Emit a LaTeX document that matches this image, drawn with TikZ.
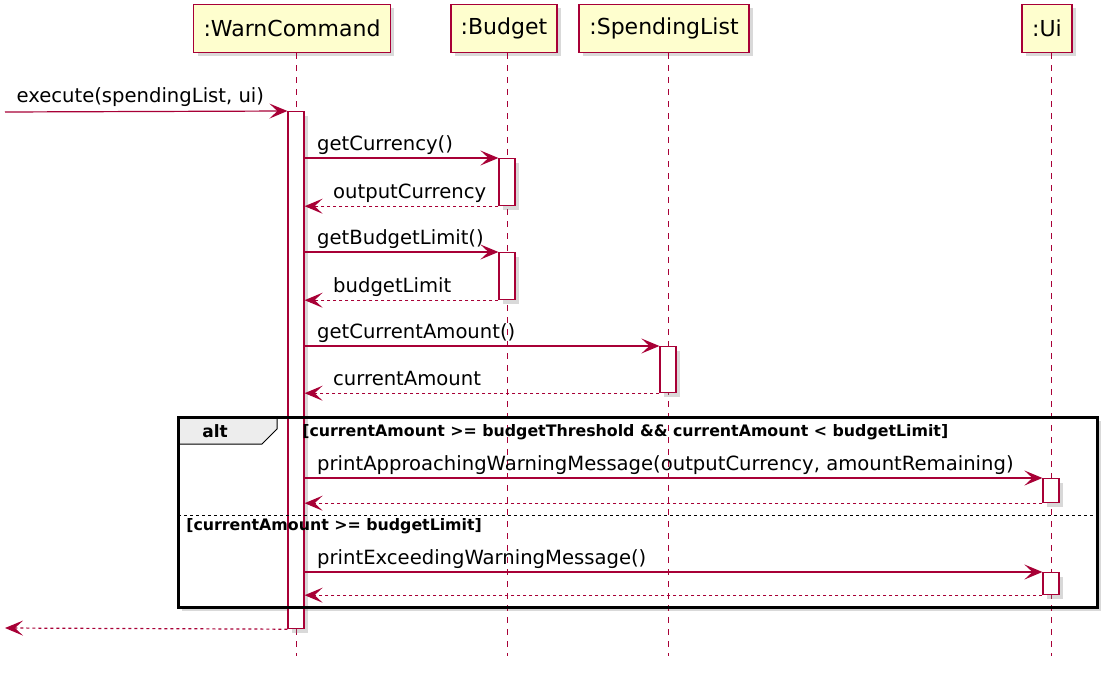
\documentclass[tikz,border=0pt]{standalone}
\usepackage{fontspec}
\setmainfont{DejaVu Sans}
\usetikzlibrary{arrows.meta,shadows}

\definecolor{umlred}{HTML}{A80036}
\definecolor{umlfill}{HTML}{FEFECE}

\begin{document}
\begin{tikzpicture}[x=1pt,y=-1pt,>={Stealth[length=18pt,width=15pt,inset=8pt]},
                    semithick,
                    shade/.style={drop shadow={shadow xshift=4pt,shadow yshift=-4pt,opacity=.3}},
                    party/.style={draw=umlred,line width=1.8pt,fill=umlfill,shade,
                                  minimum height=48pt,inner xsep=10pt,
                                  font=\fontsize{22}{26}\selectfont},
                    act/.style={draw=umlred,line width=1.2pt,fill=white,shade,anchor=north,
                                minimum width=16pt,inner sep=0pt},
                    life/.style={umlred,line width=1pt,dash pattern=on 6pt off 6pt},
                    call/.style={->,umlred,line width=1.2pt},
                    reply/.style={->,umlred,line width=1.2pt,dash pattern=on 3pt off 3pt},
                    clbl/.style={pos=0,anchor=base west,inner sep=0pt,xshift=12pt,yshift=8pt,
                                 text=black,font=\fontsize{19.6}{23}\selectfont},
                    rlbl/.style={clbl,pos=1,xshift=16pt},
                    guard/.style={anchor=west,inner sep=0pt,font=\bfseries\fontsize{15.8}{19}\selectfont}]

  \useasboundingbox (0,0) rectangle (1113,674);

  % participants
  \node[party] (pWC) at (292,28.5)  {:WarnCommand};
  \node[party] (pB)  at (504,28.5)  {:Budget};
  \node[party] (pS)  at (664,28.5)  {:SpendingList};
  \node[party] (pU)  at (1047,28.5) {:Ui};

  % alt frame
  \coordinate (fNW) at (178,417);
  \coordinate (fSE) at (1097,607);
  \draw[line width=3pt,fill=white,shade] (fNW) rectangle (fSE);

  % lifelines
  \coordinate (eWC) at (296,656);
  \coordinate (eB)  at (507,656);
  \coordinate (eS)  at (668,656);
  \coordinate (eU)  at (1051,656);
  \draw[life] (eWC |- pWC.south) -- (eWC);
  \draw[life] (eB |- pB.south)   -- (eB);
  \draw[life] (eS |- pS.south)   -- (eS);
  \draw[life] (eU |- pU.south)   -- (eU);

  % activations
  \node[act,minimum height=517pt] (aWC) at (296,111)  {};
  \node[act,minimum height=47pt]  (aB1) at (507,158)  {};
  \node[act,minimum height=47pt]  (aB2) at (507,252)  {};
  \node[act,minimum height=46pt]  (aS)  at (668,346)  {};
  \node[act,minimum height=24pt]  (aU1) at (1051,478) {};
  \node[act,minimum height=22pt]  (aU2) at (1051,572) {};

  % messages
  \coordinate (in)  at (5,112);
  \coordinate (out) at (5,628);
  \draw[call] (in) -- node[clbl,xshift=-1pt,yshift=1pt] {execute(spendingList, ui)} (aWC.north west);

  \draw[call]  (aWC.east |- aB1.north) -- node[clbl] {getCurrency()} (aB1.north west);
  \draw[reply] (aB1.south west) -- node[rlbl] {outputCurrency} (aWC.east |- aB1.south);
  \draw[call]  (aWC.east |- aB2.north) -- node[clbl] {getBudgetLimit()} (aB2.north west);
  \draw[reply] (aB2.south west) -- node[rlbl] {budgetLimit} (aWC.east |- aB2.south);
  \draw[call]  (aWC.east |- aS.north) -- node[clbl] {getCurrentAmount()} (aS.north west);
  \draw[reply] (aS.south west) -- node[rlbl] {currentAmount} (aWC.east |- aS.south);

  \draw[call]  (aWC.east |- aU1.north) -- node[clbl]
    {printApproachingWarningMessage(outputCurrency, amountRemaining)} (aU1.north west);
  \draw[reply] (aU1.south west) -- (aWC.east |- aU1.south);
  \draw[call]  (aWC.east |- aU2.north) -- node[clbl] {printExceedingWarningMessage()} (aU2.north west);
  \draw[reply] (aU2.south west) -- (aWC.east |- aU2.south);

  \draw[reply] (aWC.south west) -- (out);

  % frame tab, guards and separator
  \draw[line width=1pt,fill=black!7] (fNW) -- (277,417) -- (277,429) -- (262,444) -- (178,444) -- cycle;
  \draw[line width=3pt] (fNW) rectangle (fSE);
  \node[font=\bfseries\fontsize{17}{20}\selectfont,inner sep=0pt] (alt) at (215,431) {alt};
  \node[guard] (g1) at (302,432) {[currentAmount >= budgetThreshold \&\& currentAmount < budgetLimit]};
  \draw[line width=1pt,dash pattern=on 3pt off 3pt] (fNW |- 0,515) -- (fSE |- 0,515);
  \node[guard] (g2) at (186,526) {[currentAmount >= budgetLimit]};

\end{tikzpicture}
\end{document}
